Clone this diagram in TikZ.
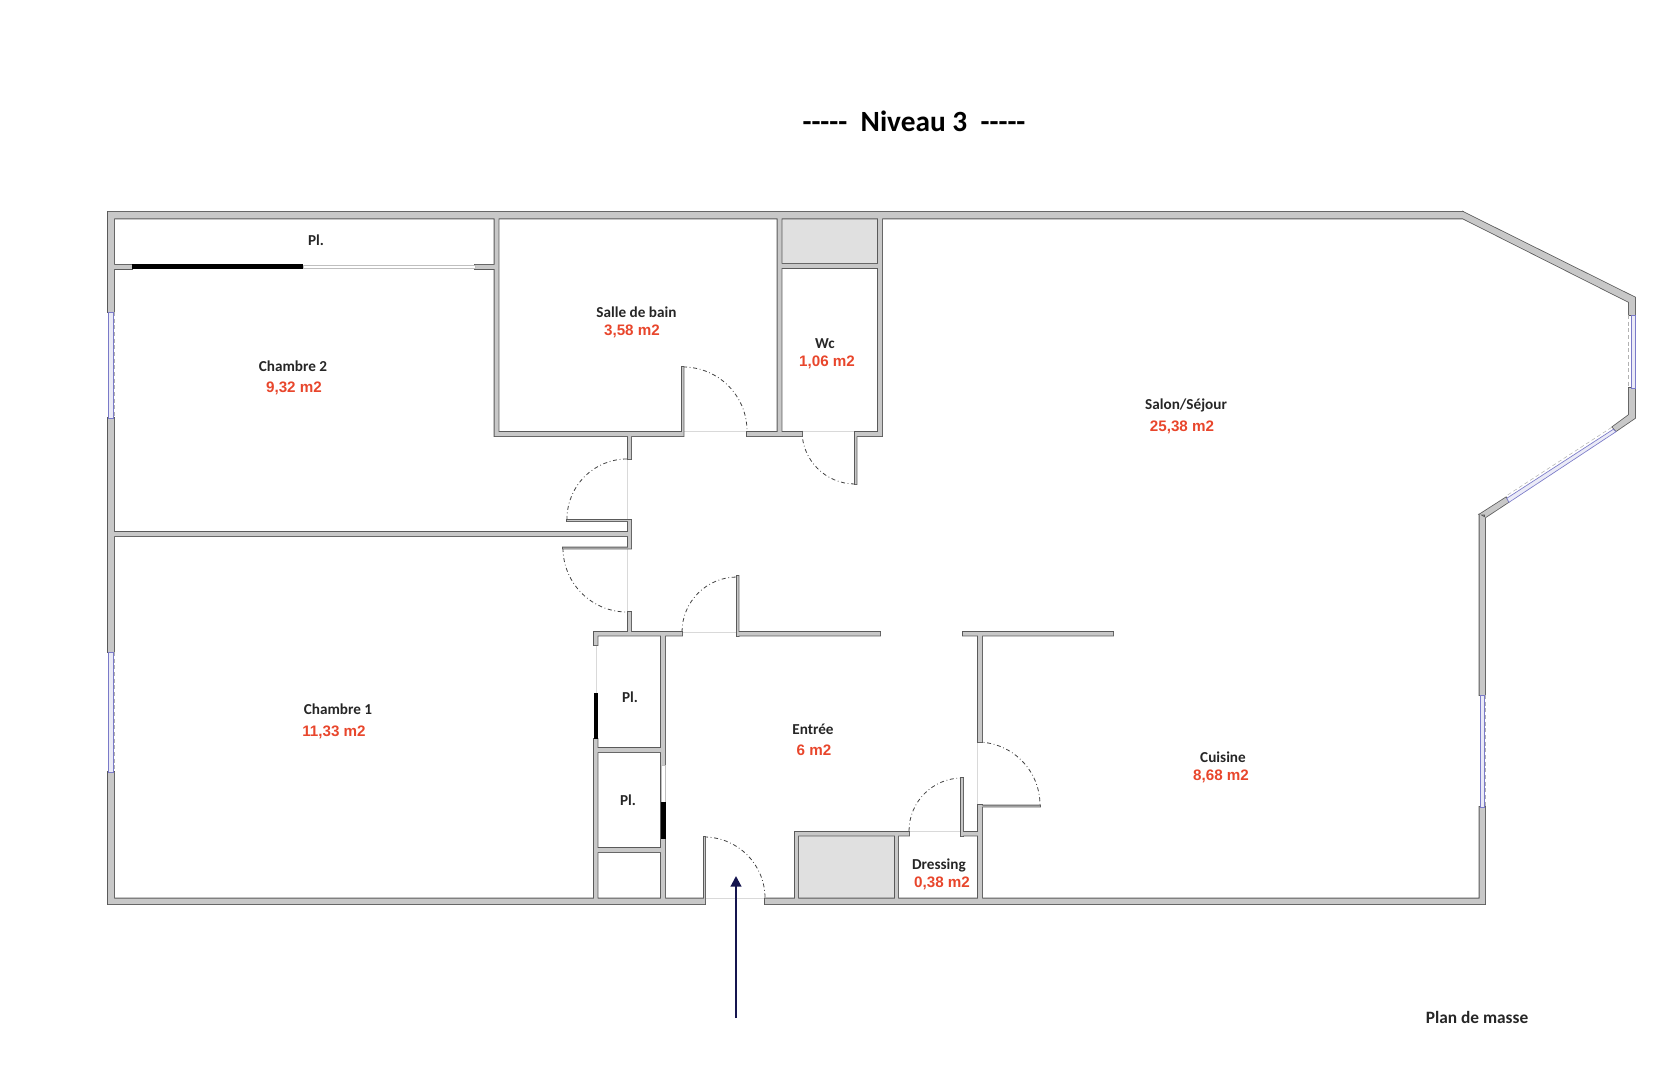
\documentclass[tikz,border=0pt]{standalone}
\usepackage{xcolor}
\usepackage{fontspec}
\setmainfont{Carlito}
\newfontfamily\areafont{Liberation Sans}
\usetikzlibrary{arrows.meta}
\definecolor{wallgray}{HTML}{C8C8C8}
\definecolor{walledge}{HTML}{5A5A5A}
\definecolor{closetgray}{HTML}{E0E0E0}
\definecolor{areared}{HTML}{E8462C}
\definecolor{glassblue}{HTML}{7A7AC8}
\definecolor{arrownavy}{HTML}{15154F}
\newcommand{\titledashes}{-{}-{}-{}-{}-}
\newcommand{\wallshapes}{
    (108,212) rectangle (1463,218.5)
    (1463,212) -- (1635,297.5) -- (1635,315) -- (1628.8,315) -- (1628.8,302) -- (1463,218.5) -- cycle
    (1628.8,388) -- (1635,388) -- (1635,418) -- (1616,431) -- (1612.5,427) -- (1628.8,415) -- cycle
    (1506,497.5) -- (1508.5,502) -- (1485,517.5) -- (1479.5,514.5) -- cycle
    (1479.5,514.5) rectangle (1485,695)
    (1479.5,807) rectangle (1485,904)
    (108,212) rectangle (114,312)
    (108,418) rectangle (114,652)
    (108,772) rectangle (114,904)
    (108,898.5) rectangle (705,904)
    (765,898.5) rectangle (1485,904)
    (114,265) rectangle (132,269)
    (475,265) rectangle (495,269)
    (494.5,218.5) rectangle (498.5,436)
    (494.5,432) rectangle (682,436)
    (682,367) rectangle (683.5,436)
    (747,432) rectangle (802,436)
    (777.5,218.5) rectangle (781.5,436)
    (781.5,264) rectangle (878,268)
    (878,218.5) rectangle (882,436)
    (855,432) rectangle (882,436)
    (855,436) rectangle (856.5,484)
    (628,436) rectangle (631,459)
    (567,520) rectangle (631,521)
    (114,532) rectangle (628,536)
    (628,520) rectangle (631,548)
    (563,547.5) rectangle (631,548.5)
    (628,612) rectangle (631,632)
    (594,632) rectangle (682,635.5)
    (594,632) rectangle (597.5,645)
    (661,632) rectangle (665,898.5)
    (737,576) rectangle (738.5,636)
    (737,632) rectangle (880,635.5)
    (963,632) rectangle (1113,635.5)
    (978,632) rectangle (982,742)
    (978,805.5) rectangle (1040,806.5)
    (978,805) rectangle (982,898.5)
    (795,832) rectangle (798,898.5)
    (795,832) rectangle (909,835.5)
    (895,832) rectangle (898,898.5)
    (961,778) rectangle (963,836)
    (961,832) rectangle (982,835.5)
    (594,739) rectangle (597.5,898.5)
    (597,748) rectangle (661,752)
    (597,848) rectangle (661,852)
    (704,837) rectangle (705,898.5)
}

\begin{document}
\begin{tikzpicture}[x=0.75pt,y=-0.75pt,
    roomname/.style={font=\bfseries\fontsize{11.4pt}{13pt}\selectfont,text=black!85,inner sep=0pt},
    roomarea/.style={font=\areafont\bfseries\fontsize{11.4pt}{13pt}\selectfont,text=areared,inner sep=0pt},
    walloutline/.style={draw=walledge,line width=1.2pt},
    closet/.style={fill=closetgray},
    slider/.style={fill=black},
    openslider/.style={draw=black!25,fill=white,line width=.4pt},
    opening/.style={draw=black!15,line width=.5pt},
    doorswing/.style={draw=black!75,line width=.6pt,dash dot},
    glass/.style={draw=glassblue,fill=glassblue!15,line width=.5pt},
    glassdash/.style={draw=black!30,line width=.4pt,densely dashed},
    entryarrow/.style={draw=arrownavy,line width=1.6pt,-{Triangle[length=8pt,width=8pt]}}]
    \useasboundingbox (0,0) rectangle (1658,1080);

    \fill[closet] (781,219) rectangle (878,264);
    \fill[closet] (798,835) rectangle (895,898);

    \draw[opening] (683,431) -- (747,431);
    \draw[opening] (802,431) -- (855,431);
    \draw[opening] (627,459) -- (627,520);
    \draw[opening] (627,548) -- (627,612);
    \draw[opening] (682,632) -- (737,632);
    \draw[opening] (977,742) -- (977,805);
    \draw[opening] (909,831) -- (961,831);
    \draw[opening] (705,898) -- (765,898);
    \draw[opening] (596,645) -- (596,693);

    \draw[doorswing] (683,367) arc[start angle=270,end angle=360,radius=64];
    \draw[doorswing] (855,484) arc[start angle=90,end angle=180,radius=53];
    \draw[doorswing] (627,459) arc[start angle=270,end angle=180,radius=60];
    \draw[doorswing] (563,548) arc[start angle=180,end angle=90,radius=64];
    \draw[doorswing] (682,632) arc[start angle=180,end angle=270,radius=55];
    \draw[doorswing] (977,742) arc[start angle=270,end angle=360,radius=63];
    \draw[doorswing] (909,831) arc[start angle=180,end angle=270,radius=53];
    \draw[doorswing] (704,837) arc[start angle=270,end angle=360,radius=61];

    \draw[walloutline] \wallshapes;
    \fill[wallgray] \wallshapes;

    \fill[slider] (132,264) rectangle (303,269);
    \draw[openslider] (303,265) rectangle (475,268);
    \fill[slider] (594,693) rectangle (598,739);
    \draw[openslider] (661,765) rectangle (665,802);
    \fill[slider] (661,802) rectangle (665.5,839);

    \draw[glass] (108,312) rectangle (113,418);
    \draw[glassdash] (114.5,312) -- (114.5,418);
    \draw[glass] (108,652) rectangle (113,772);
    \draw[glassdash] (114.5,652) -- (114.5,772);
    \draw[glass] (1631,315) rectangle (1635,388);
    \draw[glassdash] (1628.3,315) -- (1628.3,388);
    \draw[glass] (1480,695) rectangle (1484,807);
    \draw[glassdash] (1485.5,695) -- (1485.5,807);
    \draw[glass] (1613.3,429.3) -- (1616,431.7) -- (1509,502.3) -- (1506.7,498.3) -- cycle;
    \draw[glassdash] (1611.7,427.3) -- (1506,496);

    \coordinate (arrowfoot) at (736,1018);
    \coordinate (arrowtip) at (736,876);
    \draw[entryarrow] (arrowfoot) -- (arrowtip);

    \node (title) at (914,121.6) {\bfseries\fontsize{22pt}{24pt}\selectfont \titledashes\ \ Niveau 3\ \ \titledashes};
    \node[roomname] (plHaut) at (316,240.5) {Pl.};
    \node[roomname] (bain) at (636.5,312) {Salle de bain};
    \node[roomarea] (bainArea) at (632,331.5) {3,58 m2};
    \node[roomname] (wc) at (825,343.5) {Wc};
    \node[roomarea] (wcArea) at (827,362) {1,06 m2};
    \node[roomname] (chambreDeux) at (293,366) {Chambre 2};
    \node[roomarea] (chambreDeuxArea) at (294,388) {9,32 m2};
    \node[roomname] (salon) at (1186,405) {Salon/Séjour};
    \node[roomarea] (salonArea) at (1182,427) {25,38 m2};
    \node[roomname] (chambreUn) at (338,709) {Chambre 1};
    \node[roomarea] (chambreUnArea) at (334,732.5) {11,33 m2};
    \node[roomname] (plMilieu) at (630,697) {Pl.};
    \node[roomname] (plBas) at (628,800.5) {Pl.};
    \node[roomname] (entree) at (813,729.5) {Entrée};
    \node[roomarea] (entreeArea) at (814,750) {6 m2};
    \node[roomname] (cuisine) at (1223,757) {Cuisine};
    \node[roomarea] (cuisineArea) at (1221,776) {8,68 m2};
    \node[roomname] (dressing) at (939,865.5) {Dressing};
    \node[roomarea] (dressingArea) at (942,883.5) {0,38 m2};
    \node[roomname,font=\bfseries\fontsize{13pt}{15pt}\selectfont] (masse) at (1477,1017) {Plan de masse};
\end{tikzpicture}
\end{document}
